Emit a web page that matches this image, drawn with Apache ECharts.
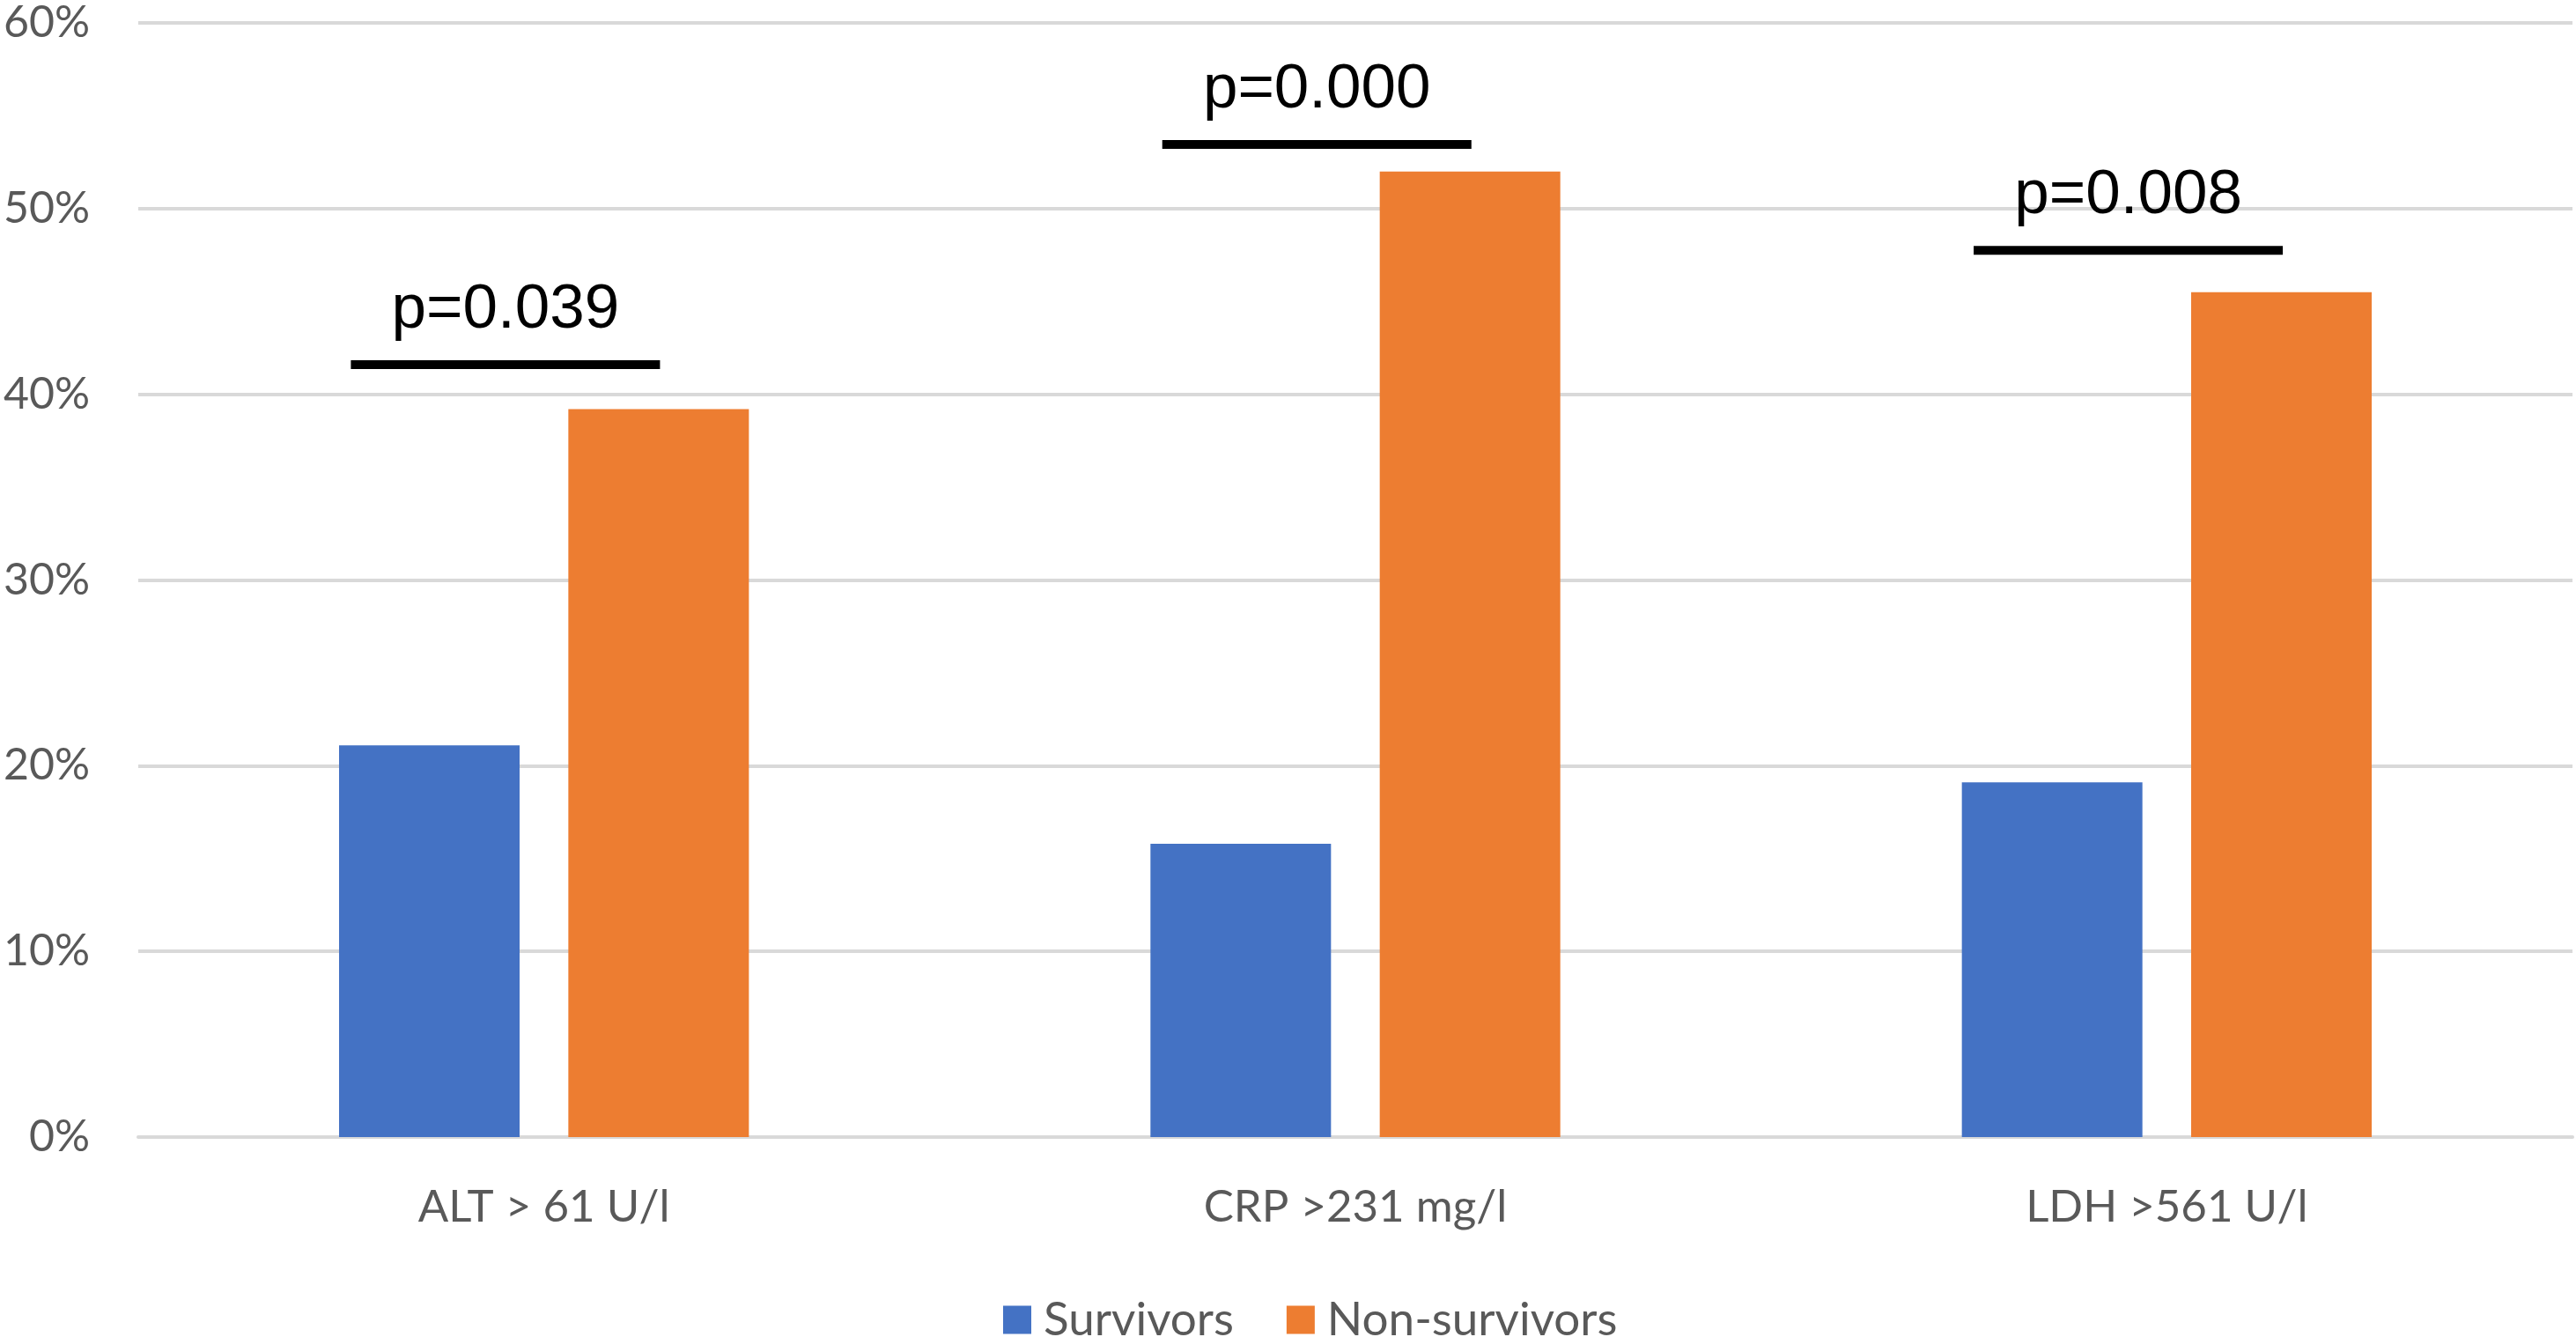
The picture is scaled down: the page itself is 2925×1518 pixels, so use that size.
<!DOCTYPE html>
<html>
<head>
<meta charset="utf-8">
<script src="https://cdn.jsdelivr.net/npm/echarts@6/dist/echarts.min.js"></script>
<style>
html,body{margin:0;padding:0;background:#fff;}
#chart{width:2925px;height:1518px;}
</style>
</head>
<body>
<div id="chart"></div>
<script>
// ---- data ----
const categories = ['ALT > 61 U/l', 'CRP >231 mg/l', 'LDH >561 U/l'];
const survivors = [21.1, 15.8, 19.1];
const nonSurvivors = [39.2, 52.0, 45.5];
const seriesNames = ['Survivors', 'Non-survivors'];
const pValues = ['p=0.039', 'p=0.000', 'p=0.008'];
const pLineLevels = [41.6, 53.45, 47.75];   // y level (in %) of each significance bar

const chart = echarts.init(document.getElementById('chart'));
const FONT = 'Lato';
const GRAY = '#595959';

const option = {
  animation: false,
  backgroundColor: '#ffffff',
  grid: { left: 157, right: 4, top: 26, bottom: 227, containLabel: false },
  legend: {
    data: seriesNames,
    left: 1134,
    top: 1467,
    itemWidth: 32,
    itemHeight: 32,
    itemGap: 60,
    icon: 'rect',
    textStyle: { fontFamily: FONT, fontSize: 53, color: GRAY, padding: [0, 0, 0, 9] }
  },
  xAxis: {
    type: 'category',
    data: categories,
    axisLine: { show: true, lineStyle: { color: '#d9d9d9', width: 4 } },
    axisTick: { show: false },
    axisLabel: { fontFamily: FONT, fontSize: 51, color: GRAY, margin: 54 }
  },
  yAxis: {
    type: 'value',
    min: 0, max: 60, interval: 10,
    axisLine: { show: false },
    axisTick: { show: false },
    axisLabel: { formatter: '{value}%', fontFamily: FONT, fontSize: 50, color: GRAY, margin: 55 },
    splitLine: { lineStyle: { color: '#d9d9d9', width: 4 } }
  },
  series: [
    { name: seriesNames[0], type: 'bar', data: survivors, barWidth: 205, barGap: '27%',
      itemStyle: { color: '#4472C4' } },
    { name: seriesNames[1], type: 'bar', data: nonSurvivors, barWidth: 205, barGap: '27%',
      itemStyle: { color: '#ED7D31' } }
  ]
};
chart.setOption(option);

function drawAnnotations() {
  const gridW = 2925 - 157 - 4;
  const cw = gridW / categories.length;
  const elements = [];
  categories.forEach((c, i) => {
    const p = chart.convertToPixel({ xAxisIndex: 0, yAxisIndex: 0 }, [i, pLineLevels[i]]);
    const x1 = p[0] - 0.238 * cw;
    const x2 = p[0] + 0.143 * cw;
    elements.push({
      type: 'line',
      shape: { x1: x1, y1: p[1], x2: x2, y2: p[1] },
      style: { stroke: '#000', lineWidth: 10 },
      z: 100
    });
    elements.push({
      type: 'text',
      x: (x1 + x2) / 2,
      y: p[1] - 62,
      style: {
        text: pValues[i],
        fontFamily: 'Liberation Sans, Arial, sans-serif',
        fontSize: 71,
        fill: '#000',
        align: 'center',
        verticalAlign: 'middle'
      },
      z: 100
    });
  });
  chart.setOption({ graphic: elements });
}
drawAnnotations();
</script>
</body>
</html>
